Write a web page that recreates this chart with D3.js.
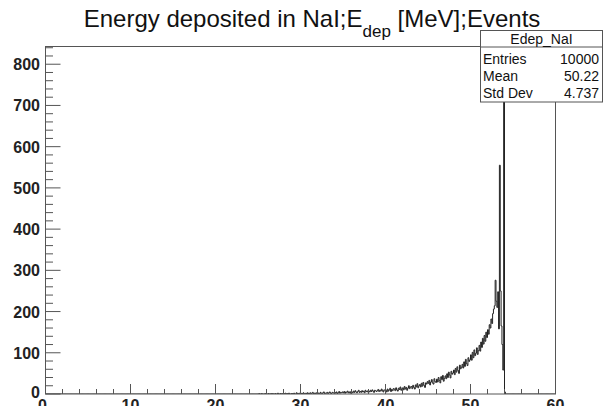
<!DOCTYPE html>
<html>
<head>
<meta charset="utf-8">
<script src="https://cdn.jsdelivr.net/npm/d3@7"></script>
<style>
  html, body { margin: 0; padding: 0; background: #fff; }
  svg { display: block; }
  text { font-family: "Liberation Sans", Arial, Helvetica, sans-serif; }
</style>
</head>
<body>
<svg id="chart" width="603" height="406"></svg>
<script>
// ---------------- data ----------------
const titleMain = "Energy deposited in NaI;E";
const titleSub = "dep";
const titleRest = " [MeV];Events";
const histName = "Edep_NaI";
const statLabels = ["Entries", "Mean", "Std Dev"];
const statValues = ["10000", "50.22", "4.737"];

const xMin = 0, xMax = 60, nBins = 600;
const yMax = 843;
const xTickLabels = [0, 10, 20, 30, 40, 50, 60];
const yTickLabels = [0, 100, 200, 300, 400, 500, 600, 700, 800];

// bin contents starting at 25.0 MeV (0.1 MeV bins); all other bins are empty
const firstFilledBinLow = 25.0;
const counts = [
  0,1,0,0,1,0,0,0,1,0,        // 25
  0,0,1,0,0,1,0,1,0,0,        // 26
  1,0,0,2,0,0,1,0,1,0,        // 27
  0,1,2,0,1,0,2,0,0,1,        // 28
  1,0,2,0,0,3,1,0,2,1,        // 29
  2,0,1,3,0,1,2,0,3,1,        // 30
  0,3,1,2,4,0,2,1,3,1,        // 31
  3,1,0,4,2,1,3,5,1,2,        // 32
  2,4,1,3,5,2,1,4,3,2,        // 33
  4,2,5,1,3,6,2,4,3,5,        // 34
  3,6,2,5,4,7,3,5,2,6,        // 35
  5,3,7,4,8,5,3,6,9,4,        // 36
  6,4,8,5,7,3,9,6,5,8,        // 37
  7,5,9,6,10,7,4,9,8,6,       // 38
  8,11,6,9,7,12,8,5,10,9,     // 39
  9,5,12,7,10,14,6,11,8,13,   // 40
  12,8,15,10,7,14,11,17,9,13, // 41
  15,10,18,12,16,9,14,20,13,17, // 42
  18,13,21,16,12,22,17,25,15,20, // 43
  23,17,26,19,28,21,16,27,24,30, // 44
  26,33,22,29,35,27,24,37,30,28, // 45
  36,29,40,33,27,42,35,45,31,38, // 46
  44,37,49,40,53,46,39,55,48,51, // 47
  58,47,62,53,66,57,50,70,61,65, // 48
  72,63,78,67,84,74,69,88,79,83, // 49
  95,82,101,88,107,93,99,112,96,105, // 50
  118,104,126,113,135,121,142,128,150,137, // 51
  156,145,168,160,182,171,195,206,214,276, // 52
  225,210,248,158,555,250,165,120,58,803,  // 53
  5                                         // 54
];

// ---------------- layout ----------------
const svg = d3.select("#chart");
const fx0 = 45.5, fx1 = 555.5, fy0 = 46.5, fy1 = 394;
const frameColor = "#555";

const x = d3.scaleLinear().domain([xMin, xMax]).range([fx0, fx1]);
const y = d3.scaleLinear().domain([0, yMax]).range([fy1, fy0]);

// full bin array
const binW = (xMax - xMin) / nBins;
const firstIdx = Math.round((firstFilledBinLow - xMin) / binW);
const bins = d3.range(nBins).map(i => {
  const k = i - firstIdx;
  return { lo: xMin + i * binW, hi: xMin + (i + 1) * binW,
           v: (k >= 0 && k < counts.length) ? counts[k] : 0 };
});

// histogram step path
let d = "M" + x(bins[0].lo) + "," + y(0);
bins.forEach(b => {
  d += "L" + x(b.lo) + "," + y(b.v) + "L" + x(b.hi) + "," + y(b.v);
});
d += "L" + x(bins[bins.length - 1].hi) + "," + y(0);

svg.append("clipPath").attr("id", "clip")
  .append("rect").attr("x", fx0).attr("y", fy0).attr("width", fx1 - fx0).attr("height", fy1 - fy0);

svg.append("path").attr("d", d)
  .attr("fill", "none").attr("stroke", "#222").attr("stroke-width", 1)
  .attr("clip-path", "url(#clip)");

// frame
svg.append("rect").attr("x", fx0).attr("y", fy0)
  .attr("width", fx1 - fx0).attr("height", fy1 - fy0)
  .attr("fill", "none").attr("stroke", frameColor).attr("stroke-width", 1);

// x ticks
const xMajorLen = 10, xMinorLen = 5;
const xMinor = d3.range(xMin, xMax + 0.001, 2);
svg.append("g").selectAll("line").data(xMinor).join("line")
  .attr("x1", v => x(v)).attr("x2", v => x(v))
  .attr("y1", fy1).attr("y2", v => fy1 - (v % 10 === 0 ? xMajorLen : xMinorLen))
  .attr("stroke", frameColor).attr("stroke-width", 1);
svg.append("g").selectAll("text").data(xTickLabels).join("text")
  .attr("x", v => x(v) - (v === 0 ? 3 : 0)).attr("y", 411)
  .attr("text-anchor", "middle")
  .attr("font-size", 16).attr("font-weight", "bold").attr("fill", "#222")
  .text(v => v);

// y ticks
const yMajorLen = 15, yMinorLen = 7.5;
const yMinor = d3.range(0, yMax, 20);
svg.append("g").selectAll("line").data(yMinor).join("line")
  .attr("x1", fx0).attr("x2", v => fx0 + (v % 100 === 0 ? yMajorLen : yMinorLen))
  .attr("y1", v => y(v)).attr("y2", v => y(v))
  .attr("stroke", frameColor).attr("stroke-width", 1);
svg.append("g").selectAll("text").data(yTickLabels).join("text")
  .attr("x", 40).attr("y", v => y(v) + 6 - (v === 0 ? 2 : 0))
  .attr("text-anchor", "end")
  .attr("font-size", 16).attr("font-weight", "bold").attr("fill", "#222")
  .text(v => v);

// title
const title = svg.append("text").attr("x", 312).attr("y", 27)
  .attr("text-anchor", "middle").attr("font-size", 24).attr("fill", "#111");
title.append("tspan").text(titleMain);
title.append("tspan").attr("font-size", 17).attr("dy", 10).text(titleSub);
title.append("tspan").attr("dy", -10).text(titleRest);

// stats box
const sx0 = 480.5, sx1 = 602.5, sy0 = 30.5, sy1 = 102, sHead = 47;
svg.append("rect").attr("x", sx0).attr("y", sy0)
  .attr("width", sx1 - sx0).attr("height", sy1 - sy0)
  .attr("fill", "#fff").attr("stroke", frameColor).attr("stroke-width", 1);
svg.append("line").attr("x1", sx0).attr("x2", sx1).attr("y1", sHead).attr("y2", sHead)
  .attr("stroke", frameColor).attr("stroke-width", 1);
svg.append("text").attr("x", (sx0 + sx1) / 2).attr("y", 44)
  .attr("text-anchor", "middle").attr("font-size", 14).attr("fill", "#111").text(histName);
statLabels.forEach((lab, i) => {
  const yy = 64 + i * 17;
  svg.append("text").attr("x", 483).attr("y", yy).attr("font-size", 14).attr("fill", "#111").text(lab);
  svg.append("text").attr("x", 599).attr("y", yy).attr("text-anchor", "end")
    .attr("font-size", 14).attr("fill", "#111").text(statValues[i]);
});
</script>
</body>
</html>
